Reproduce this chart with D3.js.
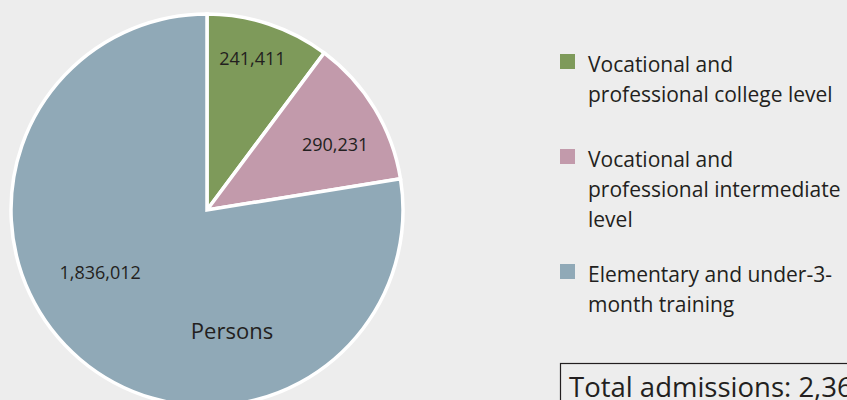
<!DOCTYPE html>
<html>
<head>
<meta charset="utf-8">
<script src="https://cdn.jsdelivr.net/npm/d3@7"></script>
<style>
  html, body { margin: 0; padding: 0; background: #ededed; overflow: hidden; }
  svg { display: block; font-family: "Open Sans", "Noto Sans", sans-serif; }
</style>
</head>
<body>
<svg id="chart" width="847" height="400"></svg>
<script>
// Training admissions by level (persons)
const categories = [
  "Vocational and professional college level",
  "Vocational and professional intermediate level",
  "Elementary and under-3-month training"
];
const legendLines = [
  ["Vocational and", "professional college level"],
  ["Vocational and", "professional intermediate", "level"],
  ["Elementary and under-3-", "month training"]
];
const values = [241411, 290231, 1836012];
const colors = ["#7e9a5a", "#c29aab", "#90a9b7"];
const unitLabel = "Persons";
const totalLabel = "Total admissions: ";

const svg = d3.select("#chart");
const fmt = d3.format(",");

const cx = 207, cy = 210, r = 196;

const pie = d3.pie().sort(null).value(d => d)(values);
const arc = d3.arc().innerRadius(0).outerRadius(r);

const g = svg.append("g").attr("transform", `translate(${cx},${cy})`);

g.selectAll("path.slice")
  .data(pie)
  .join("path")
  .attr("class", "slice")
  .attr("d", arc)
  .attr("fill", (d, i) => colors[i])
  .attr("stroke", "#ffffff")
  .attr("stroke-width", 3.5)
  .attr("stroke-linejoin", "miter");

// value labels: placed along each slice's mid-angle (with a small angular nudge)
const labelRadius = [0.81, 0.735, 0.63];
const labelAngleShift = [-0.03, 0.07, 0.34];
g.selectAll("text.val")
  .data(pie)
  .join("text")
  .attr("class", "val")
  .attr("transform", (d, i) => {
    const a = (d.startAngle + d.endAngle) / 2 + labelAngleShift[i];
    const rr = r * labelRadius[i];
    return `translate(${Math.sin(a) * rr},${-Math.cos(a) * rr})`;
  })
  .attr("text-anchor", "middle")
  .attr("dominant-baseline", "central")
  .attr("font-size", 18)
  .attr("fill", "#231f20")
  .text(d => fmt(d.value));

g.append("text")
  .attr("x", 25)
  .attr("y", 120)
  .attr("text-anchor", "middle")
  .attr("dominant-baseline", "central")
  .attr("font-size", 22)
  .attr("fill", "#231f20")
  .text(unitLabel);

// legend
const legendTop = [54, 149, 264];
const lg = svg.append("g");
legendLines.forEach((lines, i) => {
  lg.append("rect")
    .attr("x", 560).attr("y", legendTop[i])
    .attr("width", 15).attr("height", 15)
    .attr("fill", colors[i]);
  const t = lg.append("text")
    .attr("x", 588)
    .attr("y", legendTop[i] + 17.5)
    .attr("font-size", 21)
    .attr("fill", "#231f20");
  lines.forEach((ln, j) => {
    t.append("tspan").attr("x", 588).attr("dy", j === 0 ? 0 : 30.3).text(ln);
  });
});

// total box
const total = d3.sum(values);
svg.append("rect")
  .attr("x", 560.5).attr("y", 363.5)
  .attr("width", 340).attr("height", 50)
  .attr("fill", "none")
  .attr("stroke", "#231f20")
  .attr("stroke-width", 1.2);
svg.append("text")
  .attr("x", 569).attr("y", 397)
  .attr("font-size", 27.5)
  .attr("fill", "#231f20")
  .text(totalLabel + fmt(total));
</script>
</body>
</html>
